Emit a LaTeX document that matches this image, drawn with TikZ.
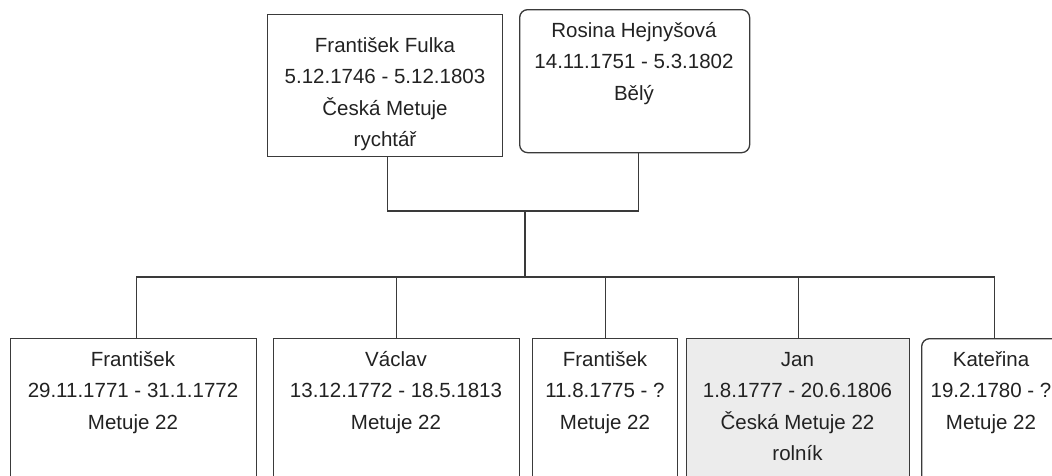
\documentclass[tikz,border=0pt]{standalone}
\usepackage{fontspec}
\setmainfont{Liberation Sans}
\definecolor{linec}{HTML}{3A3A3A}
\definecolor{textc}{HTML}{222222}
\definecolor{janfill}{HTML}{ECECEC}
\begin{document}
\begin{tikzpicture}[x=1pt,y=-1pt,
  box/.style={draw=linec, line width=1.3pt, rectangle, inner sep=0pt, anchor=north west},
  rbox/.style={box, rounded corners=8pt},
  conn/.style={draw=linec, line width=1.3pt},
  txt/.style={text=textc, align=center, inner sep=0pt, anchor=north, font=\fontsize{20.5}{31.5}\selectfont}]
\clip (0,0) rectangle (1052,475);
\fill[white] (0,0) rectangle (1052,475);
% parents
\node[box, minimum width=235pt, minimum height=142pt] (fulka) at (267,14) {};
\node[rbox, minimum width=230pt, minimum height=143pt] (rosina) at (519,9) {};
\node[txt] (tfulka) at (385,30) {\strut František Fulka\\5.12.1746 - 5.12.1803\\Česká Metuje\\rychtář};
\node[txt] (trosina) at (634,15) {\strut Rosina Hejnyšová\\14.11.1751 - 5.3.1802\\Bělý};
% children
\node[box, minimum width=246pt, minimum height=160pt] (c1) at (10,338) {};
\node[box, minimum width=246pt, minimum height=160pt] (c2) at (273,338) {};
\node[box, minimum width=145pt, minimum height=160pt] (c3) at (532,338) {};
\node[box, fill=janfill, minimum width=223pt, minimum height=160pt] (c4) at (686,338) {};
\node[rbox, minimum width=145pt, minimum height=160pt] (c5) at (921,338) {};
\node[txt] (tc1) at (133,344) {\strut František\\29.11.1771 - 31.1.1772\\Metuje 22};
\node[txt] (tc2) at (396,344) {\strut Václav\\13.12.1772 - 18.5.1813\\Metuje 22};
\node[txt] (tc3) at (605,344) {\strut František\\11.8.1775 - ?\\Metuje 22};
\node[txt] (tc4) at (797.5,344) {\strut Jan\\1.8.1777 - 20.6.1806\\Česká Metuje 22\\rolník};
\node[txt] (tc5) at (991,344) {\strut Kateřina\\19.2.1780 - ?\\Metuje 22};
% connectors
\coordinate (cpl) at (525,211);
\coordinate (bar) at (525,277);
\draw[conn] ([xshift=2pt]fulka.south) |- (cpl);
\draw[conn] ([xshift=4pt]rosina.south) |- (cpl);
\draw[conn] (cpl) -- (bar);
\draw[conn] (bar) -| ([xshift=3pt]c1.north);
\draw[conn] (bar) -| (c2.north);
\draw[conn] (bar) -| (c3.north);
\draw[conn] (bar) -| (c4.north);
\draw[conn] (bar) -| (c5.north);
\end{tikzpicture}
\end{document}
